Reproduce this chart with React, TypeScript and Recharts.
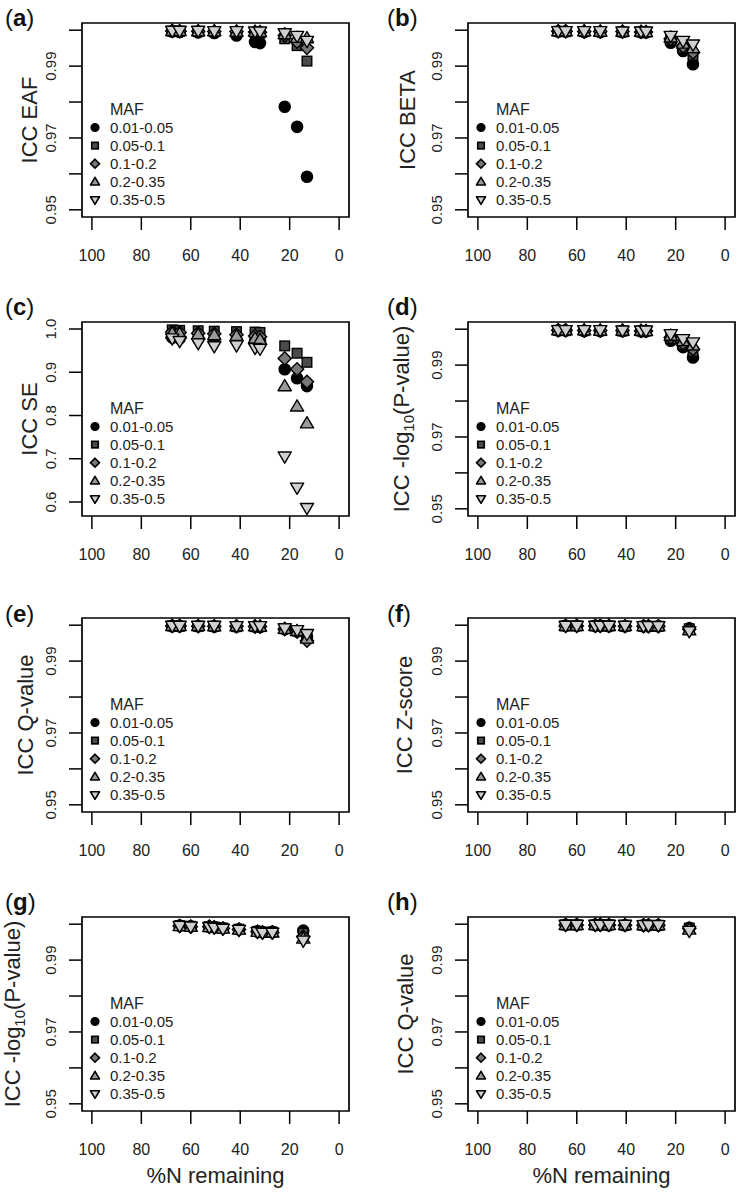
import React from "react";
import { ScatterChart, Scatter, XAxis, YAxis, ReferenceArea, Legend, Label } from "recharts";

const FONT = "'Liberation Sans', Arial, Helvetica, sans-serif";

const mafLabels = ["0.01-0.05", "0.05-0.1", "0.1-0.2", "0.2-0.35", "0.35-0.5"];
const xTicks = [0, 20, 40, 60, 80, 100];
const iccTicks = [0.95, 0.96, 0.97, 0.98, 0.99, 1.0];
const iccTickLabels = ["0.95", "", "0.97", "", "0.99", ""];
const seTicks = [0.6, 0.7, 0.8, 0.9, 1.0];
const seTickLabels = ["0.6", "0.7", "0.8", "0.9", "1.0"];

// %N remaining
const nMain = [67.5, 64.5, 57, 50.5, 41.5, 34, 32, 22, 17, 13];
const nAlt = [64.5, 60, 52.5, 50.5, 47, 40.5, 33, 31, 27, 14.5];

// ICC values, one row per MAF class
const eafY = [
  [0.9996, 0.9995, 0.9994, 0.9992, 0.9985, 0.9967, 0.9964, 0.9787, 0.9731, 0.9592],
  [0.9997, 0.9997, 0.9996, 0.9996, 0.9995, 0.9993, 0.9992, 0.9976, 0.9957, 0.9914],
  [0.9998, 0.9997, 0.9997, 0.9996, 0.9996, 0.9995, 0.9994, 0.9985, 0.9968, 0.9951],
  [0.9998, 0.9998, 0.9997, 0.9997, 0.9996, 0.9996, 0.9995, 0.9989, 0.9979, 0.9978],
  [0.9998, 0.9998, 0.9998, 0.9997, 0.9997, 0.9996, 0.9996, 0.9991, 0.9984, 0.997],
];
const betaY = [
  [0.9996, 0.9996, 0.9995, 0.9995, 0.9995, 0.9994, 0.9994, 0.9965, 0.9942, 0.9905],
  [0.9997, 0.9996, 0.9996, 0.9996, 0.9995, 0.9995, 0.9995, 0.9972, 0.995, 0.993],
  [0.9997, 0.9997, 0.9996, 0.9996, 0.9996, 0.9995, 0.9995, 0.9976, 0.9955, 0.9938],
  [0.9997, 0.9997, 0.9997, 0.9996, 0.9996, 0.9996, 0.9995, 0.998, 0.9963, 0.995],
  [0.9997, 0.9997, 0.9997, 0.9997, 0.9996, 0.9996, 0.9996, 0.9984, 0.997, 0.996],
];
const seY = [
  [0.98, 0.978, 0.977, 0.976, 0.975, 0.973, 0.972, 0.907, 0.886, 0.868],
  [0.998, 0.997, 0.996, 0.995, 0.994, 0.993, 0.992, 0.961, 0.944, 0.923],
  [0.993, 0.992, 0.99, 0.989, 0.987, 0.984, 0.982, 0.932, 0.907, 0.878],
  [0.99, 0.989, 0.987, 0.986, 0.984, 0.978, 0.975, 0.868, 0.821, 0.782],
  [0.978, 0.972, 0.967, 0.96, 0.962, 0.956, 0.954, 0.705, 0.633, 0.586],
];
const logpY = [
  [0.9996, 0.9996, 0.9995, 0.9995, 0.9995, 0.9994, 0.9994, 0.9968, 0.995, 0.9921],
  [0.9997, 0.9996, 0.9996, 0.9996, 0.9995, 0.9995, 0.9995, 0.9973, 0.9957, 0.9938],
  [0.9997, 0.9997, 0.9996, 0.9996, 0.9996, 0.9995, 0.9995, 0.9977, 0.9961, 0.9945],
  [0.9997, 0.9997, 0.9997, 0.9996, 0.9996, 0.9996, 0.9995, 0.9982, 0.9967, 0.9955],
  [0.9997, 0.9997, 0.9997, 0.9997, 0.9996, 0.9996, 0.9996, 0.9986, 0.9972, 0.9963],
];
const qY = [
  [0.9997, 0.9997, 0.9997, 0.9996, 0.9996, 0.9996, 0.9995, 0.9989, 0.9983, 0.9968],
  [0.9998, 0.9997, 0.9997, 0.9997, 0.9996, 0.9996, 0.9996, 0.999, 0.9984, 0.9966],
  [0.9998, 0.9998, 0.9997, 0.9997, 0.9997, 0.9996, 0.9996, 0.9989, 0.9982, 0.9957],
  [0.9998, 0.9998, 0.9998, 0.9997, 0.9997, 0.9997, 0.9996, 0.999, 0.9984, 0.9963],
  [0.9998, 0.9998, 0.9998, 0.9998, 0.9997, 0.9997, 0.9997, 0.9991, 0.9986, 0.9975],
];
const zY = [
  [0.9998, 0.9998, 0.9998, 0.9998, 0.9997, 0.9997, 0.9997, 0.9997, 0.9997, 0.9991],
  [0.9998, 0.9998, 0.9998, 0.9998, 0.9998, 0.9997, 0.9997, 0.9997, 0.9997, 0.999],
  [0.9998, 0.9998, 0.9998, 0.9998, 0.9998, 0.9997, 0.9997, 0.9997, 0.9997, 0.9989],
  [0.9998, 0.9998, 0.9998, 0.9998, 0.9998, 0.9998, 0.9997, 0.9997, 0.9997, 0.9986],
  [0.9998, 0.9998, 0.9998, 0.9998, 0.9998, 0.9998, 0.9997, 0.9997, 0.9997, 0.9983],
];
const logp2Y = [
  [0.9996, 0.9994, 0.9993, 0.9992, 0.9989, 0.9986, 0.998, 0.9978, 0.9979, 0.9982],
  [0.9996, 0.9994, 0.9993, 0.9992, 0.9989, 0.9986, 0.998, 0.9978, 0.9978, 0.9975],
  [0.9995, 0.9993, 0.9993, 0.9991, 0.9988, 0.9985, 0.9979, 0.9977, 0.9977, 0.9965],
  [0.9995, 0.9993, 0.9992, 0.9991, 0.9988, 0.9985, 0.9979, 0.9976, 0.9977, 0.996],
  [0.9995, 0.9993, 0.9992, 0.999, 0.9987, 0.9984, 0.9978, 0.9976, 0.9976, 0.9954],
];
const q2Y = [
  [0.9998, 0.9998, 0.9998, 0.9998, 0.9997, 0.9997, 0.9997, 0.9997, 0.9997, 0.999],
  [0.9998, 0.9998, 0.9998, 0.9998, 0.9998, 0.9997, 0.9997, 0.9997, 0.9997, 0.9989],
  [0.9998, 0.9998, 0.9998, 0.9998, 0.9998, 0.9997, 0.9997, 0.9997, 0.9997, 0.9988],
  [0.9998, 0.9998, 0.9998, 0.9998, 0.9998, 0.9998, 0.9997, 0.9997, 0.9997, 0.9985],
  [0.9998, 0.9998, 0.9998, 0.9998, 0.9998, 0.9998, 0.9997, 0.9997, 0.9997, 0.9981],
];

const fills = ["#000000", "#4a4a4a", "#777777", "#9a9a9a", "#d0d0d0"];

function Marker({ kind, cx, cy, k, sw }: { kind: number; cx: number; cy: number; k: number; sw: number }) {
  const fill = fills[kind];
  if (kind === 0) return <circle cx={cx} cy={cy} r={5.6 * k} fill={fill} stroke="#000" strokeWidth={sw} />;
  if (kind === 1) {
    const h = 4.8 * k;
    return <rect x={cx - h} y={cy - h} width={2 * h} height={2 * h} fill={fill} stroke="#000" strokeWidth={sw} />;
  }
  if (kind === 2) {
    const r = 6.6 * k;
    return <polygon points={`${cx},${cy - r} ${cx + r},${cy} ${cx},${cy + r} ${cx - r},${cy}`} fill={fill} stroke="#000" strokeWidth={sw} />;
  }
  const w = 6.6 * k;
  const a = 6.6 * k;
  const b = 4.6 * k;
  if (kind === 3)
    return <polygon points={`${cx},${cy - a} ${cx + w},${cy + b} ${cx - w},${cy + b}`} fill={fill} stroke="#000" strokeWidth={sw} strokeLinejoin="round" />;
  return <polygon points={`${cx},${cy + a} ${cx + w},${cy - b} ${cx - w},${cy - b}`} fill={fill} stroke="#000" strokeWidth={sw} strokeLinejoin="round" />;
}

const XTick = (props: any) => {
  const { x, y, payload } = props;
  return (
    <text x={x} y={y + 31} textAnchor="middle" fontSize={16} fontFamily={FONT} fill="#222">
      {payload.value}
    </text>
  );
};

const makeYTick = (ticks: number[], labels: string[]) => (props: any) => {
  const { x, y, payload } = props;
  const i = ticks.findIndex((t) => Math.abs(t - payload.value) < 1e-9);
  const txt = i >= 0 ? labels[i] : "";
  if (!txt) return <g />;
  return (
    <text x={x} y={y} transform={`rotate(-90 ${x} ${y})`} textAnchor="middle" fontSize={15} fontFamily={FONT} fill="#222">
      {txt}
    </text>
  );
};

function MafLegend({ payload }: { payload?: any[] }) {
  const names = payload && payload.length === 5 ? payload.map((p) => p.value) : mafLabels;
  return (
    <svg width={130} height={115} style={{ display: "block", overflow: "visible" }}>
      <text x={28} y={9.5} fontSize={16} fontFamily={FONT} fill="#222">MAF</text>
      {names.map((n: string, i: number) => (
        <g key={n}>
          <Marker kind={i} cx={13} cy={22.5 + 18.1 * i} k={0.68} sw={1.6} />
          <text x={28} y={22.5 + 18.1 * i + 5.3} fontSize={15} fontFamily={FONT} fill="#222">{n}</text>
        </g>
      ))}
    </svg>
  );
}

type PanelDef = {
  tag: string;
  title: string;
  sub?: string;
  rest?: string;
  ys: number[][];
  xs: number[];
  col: number;
  row: number;
  titleOff: number;
  se?: boolean;
  xlabel?: boolean;
};

const panels: PanelDef[] = [
  { tag: "a", title: "ICC EAF", ys: eafY, xs: nMain, col: 0, row: 0, titleOff: 45 },
  { tag: "b", title: "ICC BETA", ys: betaY, xs: nMain, col: 1, row: 0, titleOff: 53 },
  { tag: "c", title: "ICC SE", ys: seY, xs: nMain, col: 0, row: 1, titleOff: 45, se: true },
  { tag: "d", title: "ICC -log", sub: "10", rest: "(P-value)", ys: logpY, xs: nMain, col: 1, row: 1, titleOff: 59 },
  { tag: "e", title: "ICC Q-value", ys: qY, xs: nMain, col: 0, row: 2, titleOff: 49 },
  { tag: "f", title: "ICC Z-score", ys: zY, xs: nAlt, col: 1, row: 2, titleOff: 56 },
  { tag: "g", title: "ICC -log", sub: "10", rest: "(P-value)", ys: logp2Y, xs: nAlt, col: 0, row: 3, titleOff: 62, xlabel: true },
  { tag: "h", title: "ICC Q-value", ys: q2Y, xs: nAlt, col: 1, row: 3, titleOff: 55, xlabel: true },
];

const boxTops = [23, 322, 618, 917];
const tagBaselines = [26, 315, 622, 910];

function Panel({ p }: { p: PanelDef }) {
  const left = p.col === 0 ? 0 : 370;
  const top = boxTops[p.row] - 23;
  const mLeft = p.col === 0 ? 12 : 28;
  const mRight = p.col === 0 ? 21 : 5;
  const yDomain: [number, number] = p.se ? [0.5676, 1.0162] : [0.948, 1.002];
  const yTicks = p.se ? seTicks : iccTicks;
  const yLabels = p.se ? seTickLabels : iccTickLabels;
  const renderTitle = (lp: any) => {
    const vb = lp.viewBox || {};
    const tx = vb.x + vb.width - p.titleOff;
    const ty = vb.y + vb.height / 2;
    return (
      <text x={tx} y={ty} transform={`rotate(-90 ${tx} ${ty})`} textAnchor="middle" fontSize={22} fontFamily={FONT} fill="#222">
        <tspan>{p.title}</tspan>
        {p.sub ? <tspan fontSize={15} dy={5}>{p.sub}</tspan> : null}
        {p.rest ? <tspan dy={-5}>{p.rest}</tspan> : null}
      </text>
    );
  };
  const renderXLabel = (lp: any) => {
    const vb = lp.viewBox || {};
    return (
      <text x={vb.x + vb.width / 2} y={vb.y + 72} textAnchor="middle" fontSize={22} fontFamily={FONT} fill="#222">
        %N remaining
      </text>
    );
  };
  return (
    <div style={{ position: "absolute", left, top, width: 370, height: 300 }}>
      <ScatterChart width={370} height={300} margin={{ top: 23, right: mRight, bottom: 23, left: mLeft }}>
        <XAxis
          type="number"
          dataKey="x"
          domain={[-4, 104]}
          reversed
          ticks={xTicks}
          interval={0}
          height={60}
          tickSize={13}
          tickMargin={0}
          tickLine={{ stroke: "#000", strokeWidth: 1.5 }}
          axisLine={false}
          tick={XTick}
          allowDataOverflow
        >
          {p.xlabel ? <Label content={renderXLabel} /> : null}
        </XAxis>
        <YAxis
          type="number"
          dataKey="y"
          domain={yDomain}
          ticks={yTicks}
          interval={0}
          width={70}
          tickSize={13}
          tickMargin={13}
          tickLine={{ stroke: "#000", strokeWidth: 1.5 }}
          axisLine={false}
          tick={makeYTick(yTicks, yLabels)}
          allowDataOverflow
        >
          <Label content={renderTitle} />
        </YAxis>
        <ReferenceArea x1={-4} x2={104} y1={yDomain[0]} y2={yDomain[1]} fill="none" fillOpacity={0} stroke="#000" strokeWidth={1.7} ifOverflow="visible" />
        {p.ys.map((ys, k) => (
          <Scatter
            key={mafLabels[k]}
            name={mafLabels[k]}
            data={ys.map((y, i) => ({ x: p.xs[i], y }))}
            isAnimationActive={false}
            shape={(sp: any) => <Marker kind={k} cx={sp.cx} cy={sp.cy} k={1} sw={1.4} />}
          />
        ))}
        <Legend
          layout="vertical"
          align="center"
          verticalAlign="middle"
          wrapperStyle={{ left: mLeft + 70, top: 23 + 194 - 112, width: 130, height: 115 }}
          content={(lp: any) => <MafLegend payload={lp.payload} />}
        />
      </ScatterChart>
    </div>
  );
}

export default function App() {
  return (
    <div style={{ position: "absolute", left: 0, top: 0, width: 740, height: 1193, background: "#fff", overflow: "hidden", fontFamily: FONT }}>
      {panels.map((p) => (
        <Panel key={p.tag} p={p} />
      ))}
      <svg width={740} height={1193} style={{ position: "absolute", left: 0, top: 0, pointerEvents: "none" }}>
        {panels.map((p) => (
          <text key={p.tag} x={p.col === 0 ? 5 : 387} y={tagBaselines[p.row]} fontSize={24} fontFamily={FONT} fill="#111">
            <tspan>(</tspan>
            <tspan fontWeight="bold">{p.tag}</tspan>
            <tspan>)</tspan>
          </text>
        ))}
      </svg>
    </div>
  );
}
